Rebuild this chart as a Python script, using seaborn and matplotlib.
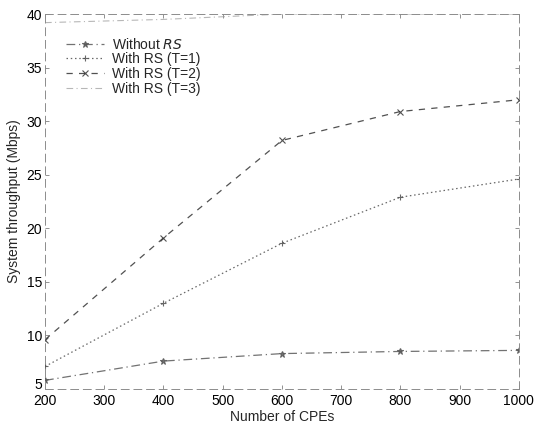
import matplotlib
matplotlib.use("Agg")
import matplotlib.pyplot as plt
import matplotlib.transforms as mtransforms
import seaborn as sns
import pandas as pd

# Number of CPEs and system throughput (Mbps) for each scheme
cpes = [200, 400, 600, 800, 1000]
without_rs = [5.8, 7.6, 8.3, 8.5, 8.6]
rs_t1 = [7.1, 13.0, 18.6, 22.9, 24.6]
rs_t2 = [9.6, 19.1, 28.2, 30.9, 32.0]
rs_t3 = [39.2, 39.5, 40.0, 40.0, 40.0]
series_names = ["Without $\\it{RS}$", "With RS (T=1)", "With RS (T=2)", "With RS (T=3)"]

x_ticks = [200, 300, 400, 500, 600, 700, 800, 900, 1000]
y_ticks = [5, 10, 15, 20, 25, 30, 35, 40]

sns.set_theme(style="white")
plt.rcParams["font.family"] = ["Liberation Sans", "DejaVu Sans"]

df = pd.concat([
    pd.DataFrame({"cpes": cpes, "thr": vals, "scheme": name})
    for name, vals in zip(series_names, [without_rs, rs_t1, rs_t2, rs_t3])
])

fig = plt.figure(figsize=(5.36, 4.26), dpi=100)
ax = fig.add_axes([0.084, 0.087, 0.884, 0.880])

styles = {
    series_names[0]: dict(ls=(0, (7, 3, 1, 3)), marker="*", color="0.35", lw=0.9, alpha=0.85),
    series_names[1]: dict(ls=(0, (1.2, 2.2)), marker="+", color="0.3", lw=0.9, alpha=0.85),
    series_names[2]: dict(ls=(0, (5, 5)), marker="x", color="0.2", lw=0.9, alpha=0.85),
    series_names[3]: dict(ls=(0, (6, 3, 1, 3)), marker="None", color="0.6", lw=0.8, alpha=0.7),
}

for name in series_names:
    st = styles[name]
    sub = df[df["scheme"] == name]
    sns.lineplot(data=sub, x="cpes", y="thr", ax=ax, label=name,
                 color=st["color"], linestyle=st["ls"], linewidth=st["lw"],
                 alpha=st["alpha"])
    line = ax.lines[-1]
    line.set_marker(st["marker"])
    line.set_markersize(5)
    line.set_markeredgewidth(0.8)
    line.set_markeredgecolor(st["color"])
    line.set_markerfacecolor(st["color"])

ax.set_xlim(200, 1000)
ax.set_ylim(5, 40)
ax.set_xticks(x_ticks)
ax.set_yticks(y_ticks)
ax.tick_params(axis="both", direction="in", length=3, width=0.6, color="0.5",
               labelsize=10, labelcolor="black", top=True, right=True,
               bottom=True, left=True, pad=2)
ax.tick_params(axis="x", pad=4)
for sp in ax.spines.values():
    sp.set_visible(True)
    sp.set_color("0.55")
    sp.set_linewidth(0.7)
    sp.set_linestyle((0, (8, 5)))

# lift the lowest y tick label a little so it clears the first x label
lift = mtransforms.ScaledTranslation(0, 4 / 72, fig.dpi_scale_trans)
ylabels = ax.get_yticklabels()
ylabels[0].set_transform(ylabels[0].get_transform() + lift)

ax.set_xlabel("Number of CPEs", fontsize=10, labelpad=1)
ax.set_ylabel("System throughput (Mbps)", fontsize=10, labelpad=4)

handles = ax.lines[:4]
leg = ax.legend(handles, series_names, loc="upper left",
                bbox_to_anchor=(0.045, 0.94), frameon=False,
                fontsize=10, handlelength=2.7, labelspacing=0.05,
                handletextpad=0.6, borderaxespad=0.0, borderpad=0.0)

fig.savefig("out.png", dpi=100)
